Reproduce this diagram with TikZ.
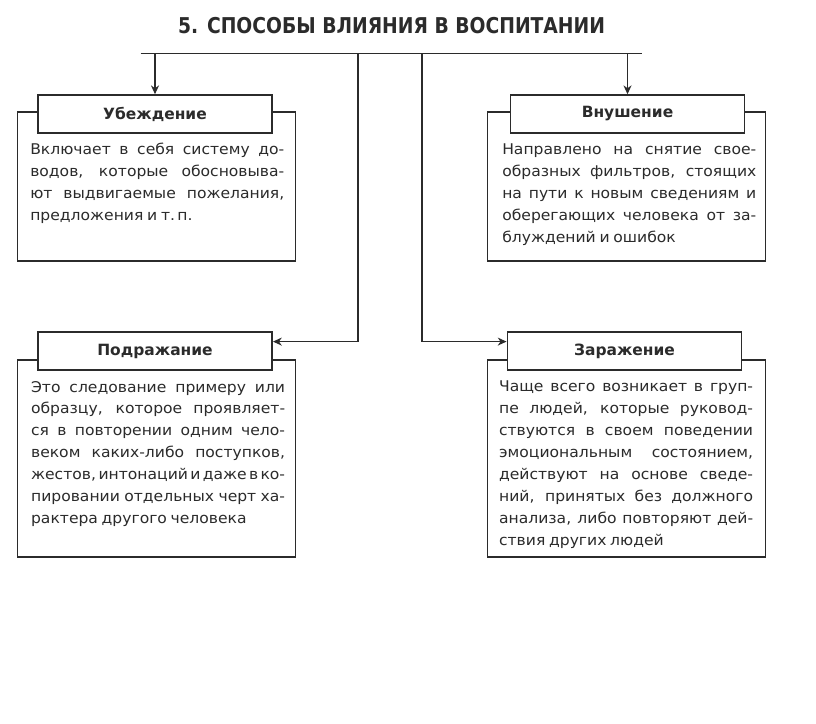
\documentclass[tikz,border=0pt]{standalone}
\usepackage{fontspec}
\setmainfont{DejaVu Sans}[FakeStretch=1.055, WordSpace={0.75,1,1.7}]
\newfontfamily\titlefont{DejaVu Sans}[FakeStretch=0.86]
\newfontfamily\headfont{DejaVu Sans}
\usepackage{tikz}
\usetikzlibrary{positioning, arrows.meta, calc}
\definecolor{ink}{HTML}{2B2B2B}
\tikzset{
  headbox/.style={draw=ink, line width=1.1pt, fill=white, minimum width=5.86cm, minimum height=0.95cm, font=\headfont\fontsize{11}{13}\selectfont\bfseries, text=ink},
  bodybox/.style={draw=ink, line width=1.1pt, fill=white, minimum width=6.95cm, inner sep=0pt},
  bodytext/.style={text width=6.35cm, align=justify, inner sep=0pt, font=\fontsize{10.5}{15.6}\selectfont, text=ink},
  link/.style={draw=ink, line width=0.9pt},
  arr/.style={link, -{Stealth[length=2.2mm, width=2mm, inset=0.7mm]}}
}

\begin{document}
\begin{tikzpicture}
  \useasboundingbox (0,0) rectangle (20.4,-18.1);

  \node[font=\titlefont\fontsize{15.5}{18}\selectfont\bfseries, text=ink] (title) at (9.79,-0.65) {5. СПОСОБЫ ВЛИЯНИЯ В ВОСПИТАНИИ};

  % top bar
  \coordinate (barL) at (3.515,-1.333);
  \coordinate (barR) at (16.04,-1.333);
  \coordinate (jL) at (8.95,-1.333);
  \coordinate (jR) at (10.55,-1.333);
  \draw[link] (barL) -- (barR);

  % upper row
  \node[bodybox, minimum height=3.725cm] (ubBody) at (3.9125,-4.6625) {};
  \node[headbox] (ubHead) at (3.875,-2.85) {Убеждение};
  \node[bodytext, anchor=north west] (ubText) at (0.75,-3.58) {Включает в себя систему до-\linebreak водов, которые обосновыва-\linebreak ют выдвигаемые пожелания,\linebreak предложения и т.\,п.};

  \node[bodybox, minimum height=3.725cm] (vnBody) at (15.6625,-4.6625) {};
  \node[headbox] (vnHead) at (15.6875,-2.85) {Внушение};
  \node[bodytext, anchor=north west] (vnText) at (12.55,-3.59) {Направлено на снятие свое-\linebreak образных фильтров, стоящих\linebreak на пути к новым сведениям и\linebreak оберегающих человека от за-\linebreak блуждений и ошибок};

  % lower row
  \node[bodybox, minimum height=4.925cm] (podBody) at (3.9125,-11.4625) {};
  \node[headbox] (podHead) at (3.875,-8.775) {Подражание};
  \node[bodytext, anchor=north west] (podText) at (0.77,-9.52) {Это следование примеру или\linebreak образцу, которое проявляет-\linebreak ся в повторении одним чело-\linebreak веком каких-либо поступков,\linebreak жестов, интонаций и даже в ко-\linebreak пировании отдельных черт ха-\linebreak рактера другого человека};

  \node[bodybox, minimum height=4.925cm] (zarBody) at (15.6625,-11.4625) {};
  \node[headbox] (zarHead) at (15.6125,-8.775) {Заражение};
  \node[bodytext, anchor=north west] (zarText) at (12.47,-9.52) {Чаще всего возникает в груп-\linebreak пе людей, которые руковод-\linebreak ствуются в своем поведении\linebreak эмоциональным состоянием,\linebreak действуют на основе сведе-\linebreak ний, принятых без должного\linebreak анализа, либо повторяют дей-\linebreak ствия других людей};

  % connectors
  \draw[arr] (ubHead.north |- barL) -- (ubHead.north);
  \draw[arr] (vnHead.north |- barR) -- (vnHead.north);
  \draw[arr] (jL) |- ([yshift=0.235cm]podHead.east);
  \draw[arr] (jR) |- ([yshift=0.235cm]zarHead.west);
\end{tikzpicture}
\end{document}
